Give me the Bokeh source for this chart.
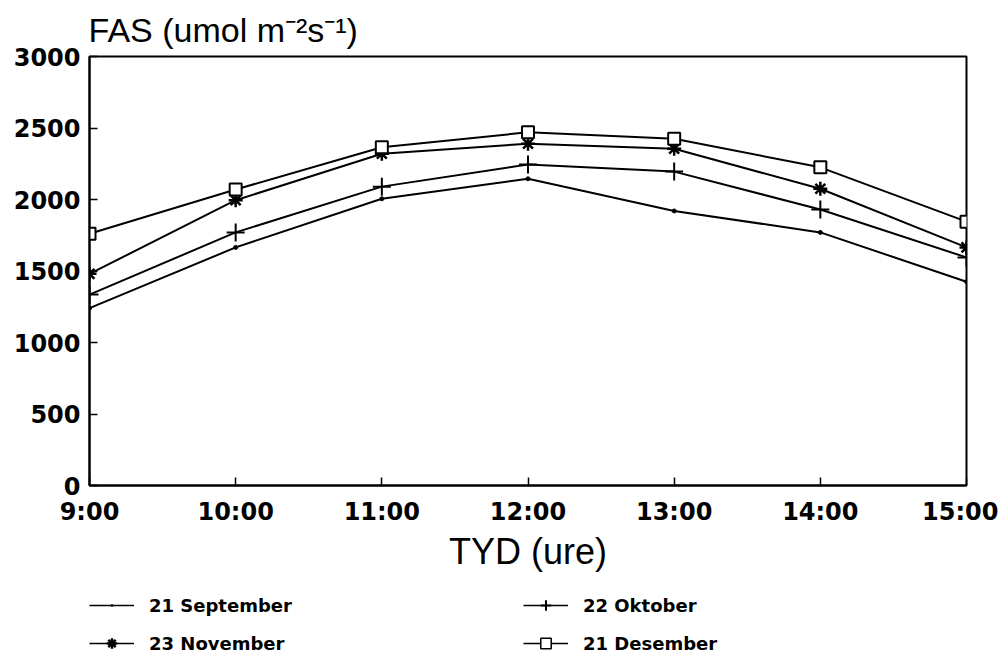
from bokeh.plotting import figure
from bokeh.layouts import column
from bokeh.models import Range1d, FixedTicker, Legend, LegendItem
from bokeh.embed import file_html
from bokeh.resources import INLINE

hours = [9, 10, 11, 12, 13, 14, 15]
hour_labels = ["9:00", "10:00", "11:00", "12:00", "13:00", "14:00", "15:00"]
y_ticks = [0, 500, 1000, 1500, 2000, 2500, 3000]

series_names = ["21 September", "22 Oktober", "23 November", "21 Desember"]
sep21 = [1240, 1665, 2005, 2145, 1920, 1770, 1425]
okt22 = [1335, 1770, 2090, 2245, 2195, 1930, 1595]
nov23 = [1480, 1995, 2320, 2390, 2355, 2075, 1665]
des21 = [1760, 2070, 2365, 2470, 2425, 2225, 1845]
series = [sep21, okt22, nov23, des21]

W = 998
H1 = 580
p = figure(width=W, height=H1, output_backend="svg", toolbar_location=None,
           x_range=Range1d(9, 15), y_range=Range1d(0, 3000),
           min_border_left=89, min_border_right=32, min_border_top=56, min_border_bottom=H1 - 485)
p.background_fill_color = "white"
p.border_fill_color = "white"
p.outline_line_color = "black"
p.outline_line_width = 2
p.xgrid.visible = False
p.ygrid.visible = False

p.title.text = "FAS (umol m\u207b\u00b2s\u207b\u00b9)"
p.title.text_font = "Liberation Sans"
p.title.text_font_style = "normal"
p.title.text_font_size = "34px"
p.title.text_color = "black"
p.title.align = "left"
p.title.offset = -1
p.title.standoff = 15

for ax in (p.xaxis, p.yaxis):
    ax.axis_line_color = "black"
    ax.axis_line_width = 2
    ax.major_tick_in = 8
    ax.major_tick_out = 0
    ax.major_tick_line_width = 1.5
    ax.minor_tick_line_color = None
    ax.major_label_text_font = "DejaVu Sans"
    ax.major_label_text_font_style = "bold"
    ax.major_label_text_font_size = "24px"
    ax.major_label_text_color = "black"

p.xaxis.ticker = FixedTicker(ticks=hours)
p.xaxis.major_label_overrides = {h: l for h, l in zip(hours, hour_labels)}
p.xaxis.major_label_standoff = 12
p.xaxis.axis_label = "TYD (ure)"
p.xaxis.axis_label_text_font = "Liberation Sans"
p.xaxis.axis_label_text_font_style = "normal"
p.xaxis.axis_label_text_font_size = "36px"
p.xaxis.axis_label_text_color = "black"
p.xaxis.axis_label_standoff = 2

p.yaxis.ticker = FixedTicker(ticks=y_ticks)
p.yaxis.major_label_standoff = 9

lw = 2
styles = [
    dict(marker="circle", size=4, line_color="black", fill_color="black", line_width=1),
    dict(marker="cross", size=18, line_color="black", fill_color=None, line_width=2),
    dict(marker="asterisk", size=14, line_color="black", fill_color=None, line_width=2.5),
    dict(marker="square", size=12, line_color="black", fill_color="white", line_width=2),
]
for ys, st in zip(series, styles):
    p.line(hours, ys, line_color="black", line_width=lw)
    p.scatter(hours, ys, **st)

# legend strip below the chart (data lies outside its visible range)
H2 = 657 - H1
q = figure(width=W, height=H2, output_backend="svg", toolbar_location=None,
           x_axis_type=None, y_axis_type=None, x_range=Range1d(0, 1), y_range=Range1d(0, 1),
           min_border=0, outline_line_color=None)
q.xgrid.visible = False
q.ygrid.visible = False
leg_styles = [
    dict(marker="dot", size=6, line_color="black", fill_color="black", line_width=1),
    dict(marker="cross", size=16, line_color="black", fill_color=None, line_width=2),
    dict(marker="asterisk", size=13, line_color="black", fill_color=None, line_width=2.5),
    dict(marker="square", size=10, line_color="black", fill_color="white", line_width=1.5),
]
items = []
for name, ys, st in zip(series_names, series, leg_styles):
    rl = q.line(hours, ys, line_color="black", line_width=1.5)
    rs = q.scatter(hours, ys, **st)
    items.append(LegendItem(label=name, renderers=[rl, rs]))
# column-major fill: rows (Sep, Okt), (Nov, Des)
ordered = [items[0], items[2], items[1], items[3]]
legend = Legend(items=ordered, ncols=2, location=(0, 1), glyph_width=45, glyph_height=26,
                label_standoff=15, label_width=362, spacing=12, padding=0, margin=0,
                border_line_color=None, background_fill_alpha=0,
                label_text_font="DejaVu Sans", label_text_font_style="bold",
                label_text_font_size="18px", label_text_color="black")
q.add_layout(legend, "center")

layout = column(p, q, spacing=0)
open("out.html", "w").write(file_html(layout, INLINE))
